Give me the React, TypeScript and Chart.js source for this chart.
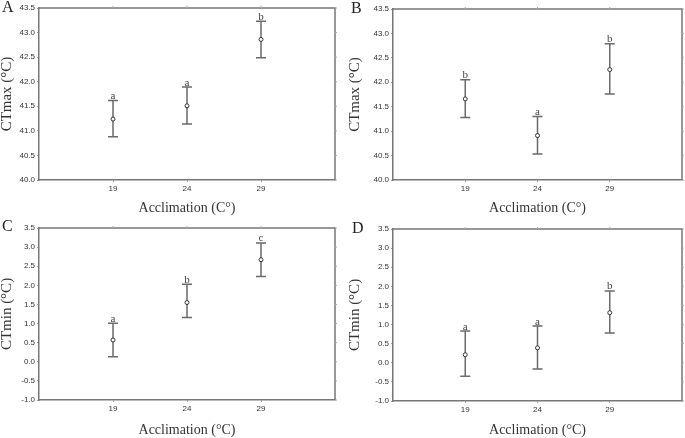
import React, { useEffect, useRef } from "react";
import { Chart, registerables } from "chart.js";

Chart.register(...registerables);

// ---------- data ----------
const acclimation = [19, 24, 29];

const ctmaxA_mean = [41.24, 41.51, 42.86];
const ctmaxA_upper = [41.62, 41.89, 43.23];
const ctmaxA_lower = [40.88, 41.14, 42.49];
const ctmaxA_letters = ["a", "a", "b"];

const ctmaxB_mean = [41.66, 40.91, 42.26];
const ctmaxB_upper = [42.05, 41.3, 42.79];
const ctmaxB_lower = [41.28, 40.53, 41.76];
const ctmaxB_letters = ["b", "a", "b"];

const ctminC_mean = [0.57, 1.55, 2.67];
const ctminC_upper = [1.01, 2.03, 3.11];
const ctminC_lower = [0.13, 1.16, 2.23];
const ctminC_letters = ["a", "b", "c"];

const ctminD_mean = [0.21, 0.39, 1.31];
const ctminD_upper = [0.83, 0.96, 1.88];
const ctminD_lower = [-0.35, -0.16, 0.78];
const ctminD_letters = ["a", "a", "b"];

const xMin = 14;
const xMax = 34;

type Panel = {
  letter: string;
  mean: number[];
  upper: number[];
  lower: number[];
  letters: string[];
  yMin: number;
  yMax: number;
  yTitle: string;
  xTitle: string;
  left: number;
  top: number;
  width: number;
  height: number;
  padTop: number;
  padRight: number;
  yWidth: number;
  xHeight: number;
  yTitlePad: number;
  xTitlePad: number;
  letterLeft: number;
  letterTop: number;
};

const panels: Panel[] = [
  {
    letter: "A", mean: ctmaxA_mean, upper: ctmaxA_upper, lower: ctmaxA_lower, letters: ctmaxA_letters,
    yMin: 40, yMax: 43.5, yTitle: "CTmax (°C)", xTitle: "Acclimation (C°)",
    left: 0, top: 0, width: 340, height: 218, padTop: 8, padRight: 5, yWidth: 39, xHeight: 38,
    yTitlePad: 0, xTitlePad: 3, letterLeft: 2, letterTop: -1,
  },
  {
    letter: "B", mean: ctmaxB_mean, upper: ctmaxB_upper, lower: ctmaxB_lower, letters: ctmaxB_letters,
    yMin: 40, yMax: 43.5, yTitle: "CTmax (°C)", xTitle: "Acclimation (C°)",
    left: 340, top: 0, width: 345, height: 218, padTop: 9, padRight: 2, yWidth: 53, xHeight: 38,
    yTitlePad: 7.5, xTitlePad: 3, letterLeft: 351, letterTop: 0,
  },
  {
    letter: "C", mean: ctminC_mean, upper: ctminC_upper, lower: ctminC_lower, letters: ctminC_letters,
    yMin: -1, yMax: 3.5, yTitle: "CTmin (°C)", xTitle: "Acclimation (°C)",
    left: 0, top: 218, width: 340, height: 220, padTop: 10, padRight: 5, yWidth: 39, xHeight: 38,
    yTitlePad: 0, xTitlePad: 1, letterLeft: 2, letterTop: 218,
  },
  {
    letter: "D", mean: ctminD_mean, upper: ctminD_upper, lower: ctminD_lower, letters: ctminD_letters,
    yMin: -1, yMax: 3.5, yTitle: "CTmin (°C)", xTitle: "Acclimation (°C)",
    left: 340, top: 218, width: 345, height: 220, padTop: 11, padRight: 2, yWidth: 53, xHeight: 37,
    yTitlePad: 7.5, xTitlePad: 1, letterLeft: 352, letterTop: 220,
  },
];

const serif = "'Liberation Serif', 'Times New Roman', serif";
const sans = "'Liberation Sans', Arial, sans-serif";

function makeChart(canvas: HTMLCanvasElement, p: Panel) {
  const errorBars = {
    id: "errorBars" + p.letter,
    beforeDatasetsDraw(chart: any) {
      const ctx = chart.ctx;
      const xs = chart.scales.x;
      const ys = chart.scales.y;
      ctx.save();
      ctx.strokeStyle = "#6a6a6a";
      ctx.lineWidth = 1.5;
      for (let i = 0; i < acclimation.length; i++) {
        const x = xs.getPixelForValue(acclimation[i]);
        const yu = ys.getPixelForValue(p.upper[i]);
        const yl = ys.getPixelForValue(p.lower[i]);
        ctx.beginPath();
        ctx.moveTo(x, yu);
        ctx.lineTo(x, yl);
        ctx.moveTo(x - 5, yu);
        ctx.lineTo(x + 5, yu);
        ctx.moveTo(x - 5, yl);
        ctx.lineTo(x + 5, yl);
        ctx.stroke();
        ctx.fillStyle = "#444";
        ctx.font = "11px " + serif;
        ctx.textAlign = "center";
        ctx.textBaseline = "alphabetic";
        ctx.fillText(p.letters[i], x, yu - 1.5);
      }
      ctx.restore();
    },
    afterDraw(chart: any) {
      const ctx = chart.ctx;
      const a = chart.chartArea;
      const xs = chart.scales.x;
      const ys = chart.scales.y;
      ctx.save();
      ctx.strokeStyle = "#777";
      ctx.lineWidth = 1.5;
      ctx.beginPath();
      ctx.moveTo(a.left, a.top);
      ctx.lineTo(a.right, a.top);
      ctx.lineTo(a.right, a.bottom);
      ctx.stroke();
      ctx.lineWidth = 1;
      ctx.strokeStyle = "#aaa";
      ctx.beginPath();
      for (const t of ys.ticks) {
        const y = ys.getPixelForValue(t.value);
        ctx.moveTo(a.right, y);
        ctx.lineTo(a.right + 2, y);
      }
      for (const t of xs.ticks) {
        const x = xs.getPixelForValue(t.value);
        ctx.moveTo(x, a.top);
        ctx.lineTo(x, a.top - 2);
      }
      ctx.stroke();
      ctx.restore();
    },
  };

  return new Chart(canvas, {
    type: "scatter",
    data: {
      datasets: [
        {
          data: acclimation.map((x, i) => ({ x, y: p.mean[i] })),
          pointRadius: 2,
          pointBorderWidth: 1,
          pointBorderColor: "#333",
          pointBackgroundColor: "#ffffff",
          pointHoverRadius: 2,
        },
      ],
    },
    options: {
      animation: false,
      responsive: false,
      maintainAspectRatio: false,
      layout: { padding: { top: p.padTop, right: p.padRight, left: 0, bottom: 0 } },
      plugins: { legend: { display: false }, tooltip: { enabled: false } },
      scales: {
        x: {
          type: "linear",
          min: xMin,
          max: xMax,
          afterBuildTicks(scale: any) {
            scale.ticks = acclimation.map((v) => ({ value: v }));
          },
          afterFit(scale: any) {
            scale.height = p.xHeight;
          },
          ticks: {
            font: { family: sans, size: 8 },
            color: "#333",
            padding: 1.5,
            callback: (v: any) => String(v),
          },
          grid: { display: true, drawOnChartArea: false, drawTicks: true, tickLength: 2, color: "#999" },
          border: { display: true, color: "#777", width: 1.5 },
          title: {
            display: true,
            text: p.xTitle,
            font: { family: serif, size: 14, lineHeight: 1 },
            color: "#333",
            padding: { top: 0, bottom: p.xTitlePad },
          },
        },
        y: {
          type: "linear",
          min: p.yMin,
          max: p.yMax,
          afterFit(scale: any) {
            scale.width = p.yWidth;
          },
          ticks: {
            stepSize: 0.5,
            font: { family: sans, size: 8 },
            color: "#333",
            padding: 2,
            callback: (v: any) => Number(v).toFixed(1),
          },
          grid: { display: true, drawOnChartArea: false, drawTicks: true, tickLength: 2, color: "#999" },
          border: { display: true, color: "#777", width: 1.5 },
          title: {
            display: true,
            text: p.yTitle,
            font: { family: serif, size: 15, lineHeight: 1 },
            color: "#333",
            padding: { top: p.yTitlePad, bottom: 0 },
          },
        },
      },
    } as any,
    plugins: [errorBars],
  });
}

function PanelChart({ p }: { p: Panel }) {
  const ref = useRef<HTMLCanvasElement | null>(null);
  useEffect(() => {
    if (!ref.current) return;
    const c = makeChart(ref.current, p);
    return () => c.destroy();
  }, [p]);
  return (
    <canvas
      ref={ref}
      width={p.width}
      height={p.height}
      style={{ position: "absolute", left: p.left, top: p.top, width: p.width, height: p.height }}
    />
  );
}

export default function App() {
  return (
    <div style={{ position: "fixed", left: 0, top: 0, width: 685, height: 438, background: "#fff", overflow: "hidden" }}>
      {panels.map((p) => (
        <PanelChart key={p.letter} p={p} />
      ))}
      {panels.map((p) => (
        <div
          key={"L" + p.letter}
          style={{
            position: "absolute",
            left: p.letterLeft,
            top: p.letterTop,
            fontFamily: serif,
            fontSize: 16,
            lineHeight: "16px",
            color: "#222",
          }}
        >
          {p.letter}
        </div>
      ))}
    </div>
  );
}
